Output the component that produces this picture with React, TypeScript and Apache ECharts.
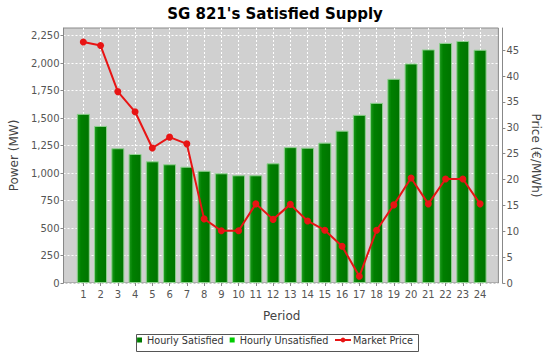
import React, { useEffect, useRef } from "react";
import * as echarts from "echarts";

const periods = ["1","2","3","4","5","6","7","8","9","10","11","12","13","14","15","16","17","18","19","20","21","22","23","24"];
const hourlySatisfied = [1539, 1429, 1226, 1174, 1107, 1080, 1058, 1021, 998, 980, 980, 1089, 1236, 1231, 1277, 1386, 1530, 1639, 1858, 1997, 2125, 2184, 2202, 2122];
const hourlyUnsatisfied = [0, 0, 0, 0, 0, 0, 0, 0, 0, 0, 0, 0, 0, 0, 0, 0, 0, 0, 0, 0, 0, 0, 0, 0];
const marketPrice = [46.6, 45.9, 37.0, 33.1, 26.1, 28.2, 26.9, 12.4, 10.1, 10.1, 15.3, 12.3, 15.2, 12.0, 10.2, 7.1, 1.3, 10.2, 15.1, 20.3, 15.3, 20.1, 20.1, 15.3];
const powerMax = 2320;
const priceMax = 49.3;

const FONT = "'DejaVu Sans', sans-serif";

export default function App() {
  const ref = useRef<HTMLDivElement>(null);
  useEffect(() => {
    if (!ref.current) return;
    const chart = echarts.init(ref.current, undefined, { renderer: "svg" });
    const tickLabel = { fontFamily: FONT, fontSize: 10, color: "#555" };
    const nameStyle = { fontFamily: FONT, fontSize: 12, color: "#444" };
    const axisGray = "#888";
    const barFill = new echarts.graphic.LinearGradient(0, 0, 1, 0, [
      { offset: 0, color: "#1c9a1c" },
      { offset: 0.3, color: "#007f00" },
      { offset: 1, color: "#007400" },
    ]);
    chart.setOption({
      animation: false,
      backgroundColor: "#ffffff",
      title: {
        text: "SG 821's Satisfied Supply",
        left: "center",
        top: 1,
        textStyle: { fontFamily: FONT, fontSize: 15, fontWeight: "bold", color: "#000" },
      },
      grid: [
        { left: 55, top: 28, width: 456, height: 255, show: true, backgroundColor: "#d0d0d0", borderColor: "#8a8a8a", borderWidth: 1 },
        { left: 74.7, top: 28, width: 414, height: 255 },
      ],
      xAxis: [
        { gridIndex: 0, type: "value", min: 0, max: 1, show: false },
        {
          gridIndex: 1,
          type: "category",
          data: periods,
          axisLine: { show: false },
          axisTick: { show: true, alignWithLabel: true, length: 3, lineStyle: { color: axisGray } },
          axisLabel: { ...tickLabel, margin: 6 },
          splitLine: { show: true, alignWithLabel: true, lineStyle: { color: "#ffffff", type: [2, 2], width: 1 } },
          name: "Period",
          nameLocation: "middle",
          nameGap: 27,
          nameTextStyle: nameStyle,
        },
      ],
      yAxis: [
        {
          gridIndex: 0,
          type: "value",
          min: 0,
          max: powerMax,
          interval: 250,
          axisLine: { show: true, lineStyle: { color: axisGray } },
          axisTick: { show: true, length: 3, lineStyle: { color: axisGray } },
          axisLabel: { ...tickLabel, margin: 4, showMaxLabel: false, formatter: (v: number) => v.toLocaleString("en-US") },
          splitLine: { show: true, showMaxLine: false, lineStyle: { color: "#ffffff", type: [2, 2], width: 1 } },
          name: "Power (MW)",
          nameLocation: "middle",
          nameGap: 43,
          nameRotate: 90,
          nameTextStyle: nameStyle,
        },
        {
          gridIndex: 0,
          type: "value",
          position: "right",
          offset: 4,
          min: 0,
          max: priceMax,
          interval: 5,
          axisLine: { show: true, lineStyle: { color: axisGray } },
          axisTick: { show: true, length: 3, lineStyle: { color: axisGray } },
          axisLabel: { ...tickLabel, margin: 4, showMaxLabel: false },
          splitLine: { show: false },
          name: "Price (€/MWh)",
          nameLocation: "middle",
          nameGap: 24,
          nameRotate: -90,
          nameTextStyle: nameStyle,
        },
        { gridIndex: 1, type: "value", min: 0, max: powerMax, show: false, splitLine: { show: false } },
        { gridIndex: 1, type: "value", min: 0, max: priceMax, show: false, splitLine: { show: false } },
      ],
      legend: [
        {
          left: 137,
          top: 335,
          padding: 0,
          itemGap: 6,
          itemWidth: 5,
          itemHeight: 5,
          icon: "rect",
          textStyle: { fontFamily: FONT, fontSize: 9.7, color: "#333", padding: [0, 0, 0, 0] },
          data: ["Hourly Satisfied", "Hourly Unsatisfied"],
          itemStyle: { borderWidth: 0 },
        },
        {
          left: 334,
          top: 335,
          padding: 0,
          itemWidth: 16,
          itemHeight: 6,
          textStyle: { fontFamily: FONT, fontSize: 9.7, color: "#333", padding: [0, 0, 0, -3] },
          data: ["Market Price"],
        },
      ],
      graphic: [
        { type: "rect", left: 134, top: 332, shape: { width: 282, height: 17 }, style: { fill: "none", stroke: "#555", lineWidth: 1 }, silent: true },
      ],
      series: [
        {
          name: "Hourly Satisfied",
          type: "bar",
          xAxisIndex: 1,
          yAxisIndex: 2,
          stack: "power",
          barWidth: 13,
          data: hourlySatisfied,
          color: "#007a00",
          itemStyle: { color: barFill, borderColor: "#8fd08f", borderWidth: 1 },
        },
        {
          name: "Hourly Unsatisfied",
          type: "bar",
          xAxisIndex: 1,
          yAxisIndex: 2,
          stack: "power",
          barWidth: 13,
          data: hourlyUnsatisfied,
          color: "#00cc00",
          itemStyle: { color: "#00cc00" },
        },
        {
          name: "Market Price",
          type: "line",
          xAxisIndex: 1,
          yAxisIndex: 3,
          data: marketPrice,
          color: "#e81414",
          symbol: "circle",
          symbolSize: 7,
          lineStyle: { color: "#e81414", width: 2 },
          itemStyle: { color: "#e81414" },
          z: 5,
        },
      ],
    });
    return () => chart.dispose();
  }, []);
  return <div ref={ref} style={{ width: 550, height: 352, position: "absolute", left: 0, top: 0 }} />;
}
